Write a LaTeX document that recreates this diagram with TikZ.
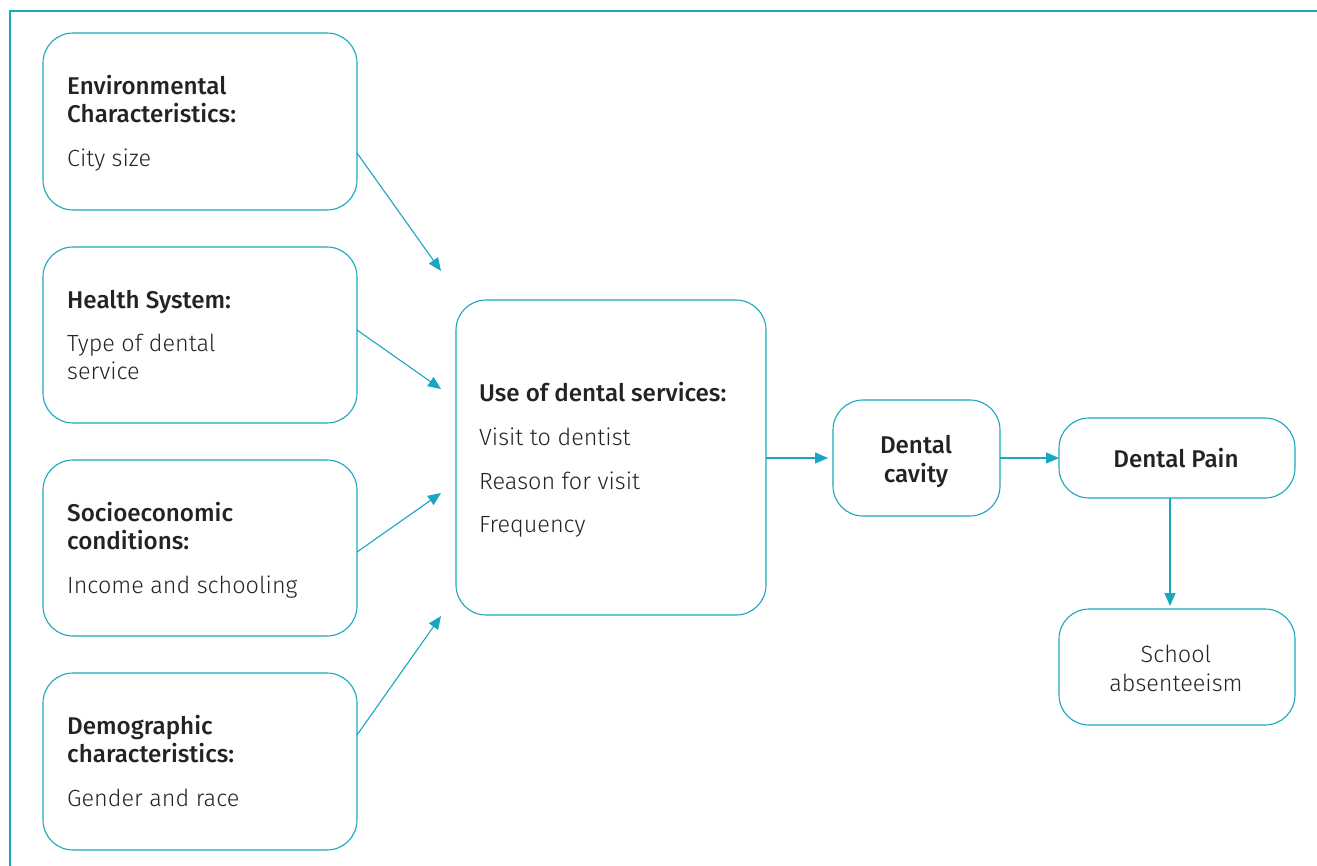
\documentclass[tikz,border=0pt]{standalone}
\usepackage{fontspec}
\setmainfont{Fira Sans Light}[BoldFont={Fira Sans Medium}]
\usetikzlibrary{arrows.meta}
\definecolor{teal}{RGB}{23,167,190}
\definecolor{ink}{RGB}{38,34,35}
\tikzset{
  box/.style={draw=teal, line width=1.1pt, rounded corners=30pt, inner sep=0pt},
  txt/.style={anchor=base west, inner sep=0pt, text=ink, font=\fontsize{23.4}{28}\selectfont},
  btxt/.style={anchor=base west, inner sep=0pt, text=ink, font=\fontsize{24.2}{28}\selectfont\bfseries},
  ctxt/.style={anchor=base, inner sep=0pt, text=ink, font=\fontsize{23.4}{28}\selectfont},
  cbtxt/.style={anchor=base, inner sep=0pt, text=ink, font=\fontsize{24.2}{28}\selectfont\bfseries},
  conn/.style={draw=teal, line width=1.1pt, -{Triangle[length=13pt,width=11pt]}, shorten >=0pt},
}
\begin{document}
\begin{tikzpicture}[x=1pt,y=-1pt]
\useasboundingbox (0,0) rectangle (1317,865);
\draw[teal, line width=1.6pt] (10,866) -- (10,11) -- (1318,11);
% boxes
\draw[box] (43,33) rectangle (357,210);
\draw[box] (43,247) rectangle (357,423);
\draw[box] (43,460) rectangle (357,636);
\draw[box] (43,673) rectangle (357,850);
\draw[box] (456,300) rectangle (766,615);
\draw[box] (833,400) rectangle (1000,516);
\draw[box] (1059,418) rectangle (1295,498);
\draw[box] (1059,609) rectangle (1295,725);
% named anchors
\coordinate (envR) at (357,153);
\coordinate (hsR) at (357,330);
\coordinate (seR) at (357,552);
\coordinate (dmR) at (357,735);
\coordinate (t1) at (441,271);
\coordinate (t2) at (441,389);
\coordinate (t3) at (441,493);
\coordinate (t4) at (441,616);
\coordinate (useR) at (766,458);
\coordinate (cavL) at (828,458);
\coordinate (cavR) at (1000,458);
\coordinate (painL) at (1059,458);
\coordinate (painB) at (1170,498);
\coordinate (schT) at (1170,606);
% texts
\node[btxt] (e1) at (67,94) {Environmental};
\node[btxt] (e2) at (67,122) {Characteristics:};
\node[txt] (e3) at (67,166) {City size};
\node[btxt] (h1) at (67,308) {Health System:};
\node[txt] (h2) at (67,351) {Type of dental};
\node[txt] (h3) at (67,379) {service};
\node[btxt] (s1) at (67,521) {Socioeconomic};
\node[btxt] (s2) at (67,549) {conditions:};
\node[txt] (s3) at (67,593) {Income and schooling};
\node[btxt] (d1) at (67,734) {Demographic};
\node[btxt] (d2) at (67,762) {characteristics:};
\node[txt] (d3) at (67,806) {Gender and race};
\node[btxt] (u1) at (479,401) {Use of dental services:};
\node[txt] (u2) at (479,445) {Visit to dentist};
\node[txt] (u3) at (479,489) {Reason for visit};
\node[txt] (u4) at (479,532) {Frequency};
\node[cbtxt] (c1) at (916,453) {Dental};
\node[cbtxt] (c2) at (916,482) {cavity};
\node[cbtxt] (p1) at (1176,467) {Dental Pain};
\node[ctxt] (a1) at (1176,662) {School};
\node[ctxt] (a2) at (1176,691) {absenteeism};
% connectors
\draw[conn] (envR) -- (t1);
\draw[conn] (hsR) -- (t2);
\draw[conn] (seR) -- (t3);
\draw[conn] (dmR) -- (t4);
\draw[conn] (useR) -- (cavL);
\draw[conn] (cavR) -- (painL);
\draw[conn] (painB) -- (schT);
\end{tikzpicture}
\end{document}
